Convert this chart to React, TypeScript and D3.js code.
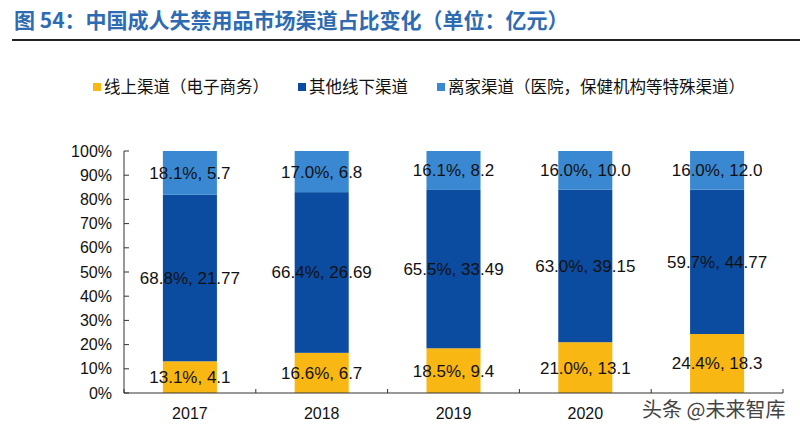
import React from "react";
import * as d3 from "d3";

const categories = ["2017", "2018", "2019", "2020", "2021"];
const seriesNames = ["线上渠道（电子商务）", "其他线下渠道", "离家渠道（医院，保健机构等特殊渠道）"];
const onlinePct = [13.1, 16.6, 18.5, 21.0, 24.4];
const onlineAmt = ["4.1", "6.7", "9.4", "13.1", "18.3"];
const offlinePct = [68.8, 66.4, 65.5, 63.0, 59.7];
const offlineAmt = ["21.77", "26.69", "33.49", "39.15", "44.77"];
const awayPct = [18.1, 17.0, 16.1, 16.0, 16.0];
const awayAmt = ["5.7", "6.8", "8.2", "10.0", "12.0"];
const yTicks = [0, 0.1, 0.2, 0.3, 0.4, 0.5, 0.6, 0.7, 0.8, 0.9, 1.0];
// the last category label is hidden under the watermark in the reference
const visibleXLabels = ["2017", "2018", "2019", "2020"];

const colors = ["#F9B714", "#0B4BA0", "#3A88D2"];
const title = "图 54：中国成人失禁用品市场渠道占比变化（单位：亿元）";
const watermark = "头条 @未来智库";

export default function App() {
  const W = 800, H = 434;
  const left = 124, right = 783, top = 151, bottom = 393;
  const keys = ["online", "offline", "away"];
  const rows = categories.map((c, i) => ({
    cat: c,
    online: onlinePct[i],
    offline: offlinePct[i],
    away: awayPct[i],
  }));
  const pcts = [onlinePct, offlinePct, awayPct];
  const amts = [onlineAmt, offlineAmt, awayAmt];
  const stack = d3.stack<any>().keys(keys).offset(d3.stackOffsetExpand);
  const series = stack(rows);
  const x = d3.scaleBand().domain(categories).range([left, right]).paddingInner(0.59).paddingOuter(0.295);
  const y = d3.scaleLinear().domain([0, 1]).range([bottom, top]);
  const step = x.step();
  const fmt = d3.format(".0%");
  const numFont = "Arial, 'Liberation Sans', sans-serif";
  const cjk = "'Noto Sans CJK SC', sans-serif";
  const legendX = [93, 298, 437];

  return (
    <svg width={W} height={H} style={{ position: "absolute", left: 0, top: 0, background: "#fff" }}>
      <rect width={W} height={H} fill="#fff" />
      <text x={14} y={28} fontFamily={cjk} fontWeight={700} fontSize={21} fill="#2E6BB3">{title}</text>
      <line x1={12} x2={800} y1={40} y2={40} stroke="#222" strokeWidth={2} />

      {seriesNames.map((n, i) => (
        <g key={n}>
          <rect x={legendX[i]} y={83} width={8} height={8} fill={colors[i]} />
          <text x={legendX[i] + 11} y={92.5} fontFamily={cjk} fontSize={16.5} fill="#111">{n}</text>
        </g>
      ))}

      {series.map((s, si) => (
        <g key={s.key}>
          {s.map((d, i) => (
            <rect key={i} x={x(categories[i])} width={x.bandwidth()} y={y(d[1])} height={y(d[0]) - y(d[1])} fill={colors[si]} />
          ))}
        </g>
      ))}

      {series.map((s, si) => (
        <g key={"l" + s.key}>
          {s.map((d, i) => (
            <text key={i} x={(x(categories[i]) as number) + x.bandwidth() / 2} y={(y(d[0]) + y(d[1])) / 2} dy="0.35em"
              textAnchor="middle" fontFamily={numFont} fontSize={17} fill="#111">
              {pcts[si][i].toFixed(1) + "%, " + amts[si][i]}
            </text>
          ))}
        </g>
      ))}

      {/* y axis */}
      <line x1={left} x2={left} y1={top} y2={bottom} stroke="#333" strokeWidth={1} />
      {yTicks.map((t) => (
        <g key={t}>
          <line x1={left} x2={left + 5} y1={y(t)} y2={y(t)} stroke="#333" />
          <text x={112} y={y(t)} dy="0.35em" textAnchor="end" fontFamily={numFont} fontSize={16} fill="#111">{fmt(t)}</text>
        </g>
      ))}

      {/* x axis */}
      <line x1={left} x2={right} y1={bottom} y2={bottom} stroke="#333" />
      {d3.range(categories.length + 1).map((i) => (
        <line key={i} x1={left + i * step} x2={left + i * step} y1={bottom} y2={bottom - 4} stroke="#333" />
      ))}
      {visibleXLabels.map((c) => (
        <text key={c} x={(x(c) as number) + x.bandwidth() / 2} y={419} textAnchor="middle" fontFamily={numFont} fontSize={16} fill="#111">{c}</text>
      ))}

      <text x={642} y={417} fontFamily={cjk} fontSize={20} fill="#444">{watermark}</text>
    </svg>
  );
}
